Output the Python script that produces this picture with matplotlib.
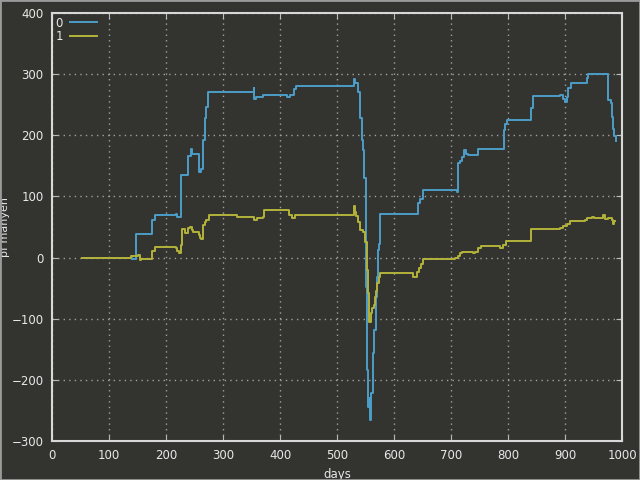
import matplotlib
matplotlib.use("Agg")
import matplotlib.pyplot as plt
from matplotlib.patches import Rectangle

# series "0"
days0 = [53, 140, 145, 148, 176, 181, 217, 220, 226, 239, 243, 245, 257, 262, 265, 268,
         271, 274, 354, 355, 357, 371, 412, 418, 424, 428, 528, 529, 531, 537, 540, 543,
         546, 547, 550, 551, 552, 555, 557, 558, 560, 563, 565, 568, 571, 572, 574, 575,
         642, 645, 651, 710, 712, 715, 720, 722, 726, 730, 748, 793, 795, 799, 840, 844,
         891, 897, 900, 903, 906, 910, 938, 941, 975, 976, 980, 983, 985, 986, 989]
pf0 = [0, -2, -3, 39, 61, 70, 72, 67, 135, 166, 177, 170, 140, 145, 192, 228,
       247, 270, 277, 260, 263, 266, 263, 266, 276, 281, 281, 292, 286, 270, 228, 192,
       176, 130, 121, -48, -184, -244, -230, -266, -222, -156, -118, -64, -31, 12, 23, 71,
       89, 95, 110, 108, 154, 158, 165, 176, 170, 168, 177, 209, 218, 225, 244, 265,
       266, 259, 255, 263, 277, 286, 293, 301, 266, 258, 252, 230, 211, 198, 190]

# series "1"
days1 = [53, 138, 150, 154, 156, 175, 181, 213, 217, 220, 223, 227, 228, 233, 238, 242,
         245, 248, 257, 260, 262, 265, 268, 271, 276, 324, 355, 360, 371, 372, 415, 421,
         426, 528, 530, 532, 534, 537, 540, 546, 549, 552, 554, 556, 559, 562, 564, 567,
         569, 571, 573, 575, 633, 641, 644, 648, 651, 707, 713, 716, 719, 739, 742, 748,
         752, 786, 792, 797, 841, 892, 897, 903, 909, 935, 938, 947, 950, 961, 966, 970,
         976, 979, 982, 984, 986, 988]
pf1 = [0, 3, 4, -4, -2, 10, 18, 18, 15, 10, 8, 21, 46, 40, 48, 50,
       45, 42, 37, 32, 30, 53, 58, 62, 70, 67, 62, 64, 67, 77, 70, 65,
       70, 70, 85, 75, 68, 58, 45, 42, 26, -20, -58, -105, -91, -82, -77, -64,
       -55, -42, -32, -26, -31, -24, -17, -10, -3, 0, 2, 7, 9, 7, 9, 15,
       19, 16, 20, 27, 47, 48, 52, 55, 60, 62, 64, 67, 65, 65, 69, 63,
       65, 65, 62, 55, 59, 59]

bg = "#333430"
fg = "#e8e8e8"

fig = plt.figure(figsize=(6.4, 4.8), dpi=100, facecolor=bg)
ax = fig.add_axes([0.0813, 0.08125, 0.8906, 0.8917], facecolor=bg)

ax.plot(days0, pf0, drawstyle="steps-post", color="#4c9dc9", lw=1.4, label="0")
ax.plot(days1, pf1, drawstyle="steps-post", color="#b3b33a", lw=1.4, label="1")

ax.set_xlim(0, 1000)
ax.set_ylim(-300, 400)
ax.set_xticks(range(0, 1001, 100))
ax.set_yticks(range(-300, 401, 100))
ax.grid(True, color="#a0a0a0", linestyle=(0, (1, 3)), linewidth=1)

for s in ax.spines.values():
    s.set_color("#d8d8d8")
    s.set_linewidth(1.5)
ax.tick_params(direction="in", length=4, color="#bbbbbb", labelcolor=fg,
               labelsize=8.5, top=True, right=True, pad=6)

ax.set_xlabel("days", color=fg, fontsize=8.5, labelpad=4)
ax.set_ylabel("pf manyen", color=fg, fontsize=8)
ax.yaxis.set_label_coords(-0.074, 0.5)

leg = ax.legend(loc="upper left", frameon=False, markerfirst=False, fontsize=8.5,
                handlelength=2.3, handletextpad=0.6, labelspacing=0.05,
                borderaxespad=0.0, borderpad=0.3)
for t in leg.get_texts():
    t.set_color(fg)

fig.patches.append(Rectangle((0, 0), 1, 1, transform=fig.transFigure,
                             fill=False, edgecolor="#9a9a9a", lw=2))

fig.savefig("out.png", dpi=100, facecolor=bg)
